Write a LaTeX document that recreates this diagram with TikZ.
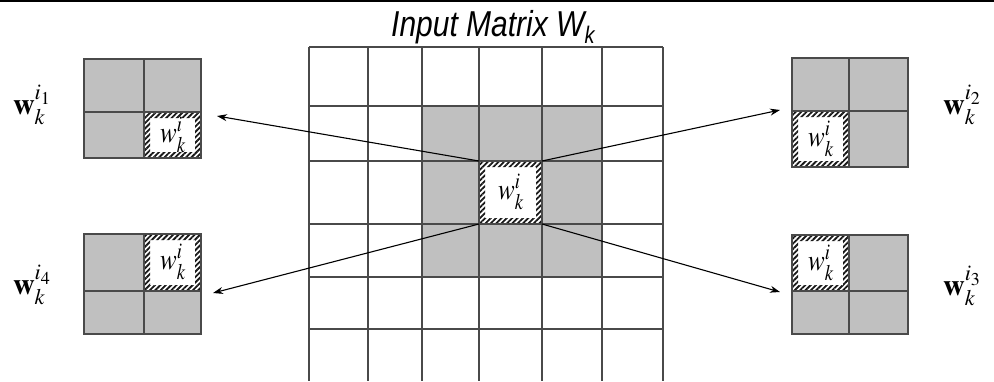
\documentclass[tikz,border=0pt]{standalone}
\usepackage{mathptmx}
\usepackage[no-math]{fontspec}
\newfontfamily\titlefont{Liberation Sans}
\usetikzlibrary{arrows.meta,patterns.meta}
\definecolor{cellgray}{HTML}{C0C0C0}
\definecolor{gridline}{HTML}{4A4A4A}
\tikzset{
  gridln/.style={draw=gridline,line width=1.2pt},
  arr/.style={-{Stealth[length=10pt,width=7pt]},line width=1.1pt,black},
  lbl/.style={font=\fontsize{30}{32}\selectfont,inner sep=0pt},
  cellw/.style={font=\fontsize{25}{27}\selectfont,inner sep=0pt},
}
\newcommand{\hatchcell}[4]{%
  \fill[white] (#1,#2) rectangle (#3,#4);
  \fill[pattern={Lines[angle=45,distance=3.8pt,line width=1.8pt]},pattern color=black!90,even odd rule]
    (#1,#2) rectangle (#3,#4) ({#1+6},{#2+6}) rectangle ({#3-6},{#4-6});
}
\newcommand{\wki}{\scalebox{1}[1.2]{$w_k^i$}}
\begin{document}
\begin{tikzpicture}[x=1pt,y=-1pt]
\useasboundingbox (0,0) rectangle (994,381);
\fill[white] (0,0) rectangle (994,381);
% top rule
\draw[line width=2pt] (0,1) -- (994,1);
% title
\node[inner sep=0pt,anchor=base west] (title) at (391,36) {\scalebox{1}[1.2]{\titlefont\itshape\fontsize{30}{32}\selectfont Input Matrix W\raisebox{-6pt}{\fontsize{20}{22}\selectfont k}}};
% main grid: gray block
\fill[cellgray] (422,106) rectangle (602,277);
\hatchcell{479}{161}{542}{224}
\foreach \x in {309,368,422,479,542,602,663} \draw[gridln] (\x,47) -- (\x,381);
\foreach \y in {47,106,161,224,277,329} \draw[gridln] (309,\y) -- (663,\y);
\node[cellw] (c) at (511,192) {\wki};
\coordinate (cnw) at (479,161);
\coordinate (cne) at (542,161);
\coordinate (csw) at (479,224);
\coordinate (cse) at (542,224);
% small matrix 1 (top left), hatched bottom-right
\fill[cellgray] (84,59) rectangle (201,158);
\hatchcell{144}{112}{201}{158}
\draw[gridln] (84,59) rectangle (201,158) (144,59) -- (144,158) (84,112) -- (201,112);
\node[cellw] (m1w) at (173,135) {\wki};
\node[lbl] (l1) at (32,105) {$\mathbf{w}_k^{i_1}$};
\coordinate (t1) at (217,116);
% small matrix 4 (bottom left), hatched top-right
\fill[cellgray] (84,234) rectangle (201,334);
\hatchcell{144}{234}{201}{291}
\draw[gridln] (84,234) rectangle (201,334) (144,234) -- (144,334) (84,291) -- (201,291);
\node[cellw] (m4w) at (173,262) {\wki};
\node[lbl] (l4) at (32,285) {$\mathbf{w}_k^{i_4}$};
\coordinate (t4) at (213,293);
% small matrix 2 (top right), hatched bottom-left
\fill[cellgray] (792,58) rectangle (908,167);
\hatchcell{792}{111}{849}{167}
\draw[gridln] (792,58) rectangle (908,167) (849,58) -- (849,167) (792,111) -- (908,111);
\node[cellw] (m2w) at (821,139) {\wki};
\node[lbl] (l2) at (962,105) {$\mathbf{w}_k^{i_2}$};
\coordinate (t2) at (780,110);
% small matrix 3 (bottom right), hatched top-left
\fill[cellgray] (792,235) rectangle (908,334);
\hatchcell{792}{235}{849}{291}
\draw[gridln] (792,235) rectangle (908,334) (849,235) -- (849,334) (792,291) -- (908,291);
\node[cellw] (m3w) at (821,263) {\wki};
\node[lbl] (l3) at (962,286) {$\mathbf{w}_k^{i_3}$};
\coordinate (t3) at (780,292);
% arrows
\draw[arr] (cnw) -- (t1);
\draw[arr] (cne) -- (t2);
\draw[arr] (csw) -- (t4);
\draw[arr] (cse) -- (t3);
\end{tikzpicture}
\end{document}
